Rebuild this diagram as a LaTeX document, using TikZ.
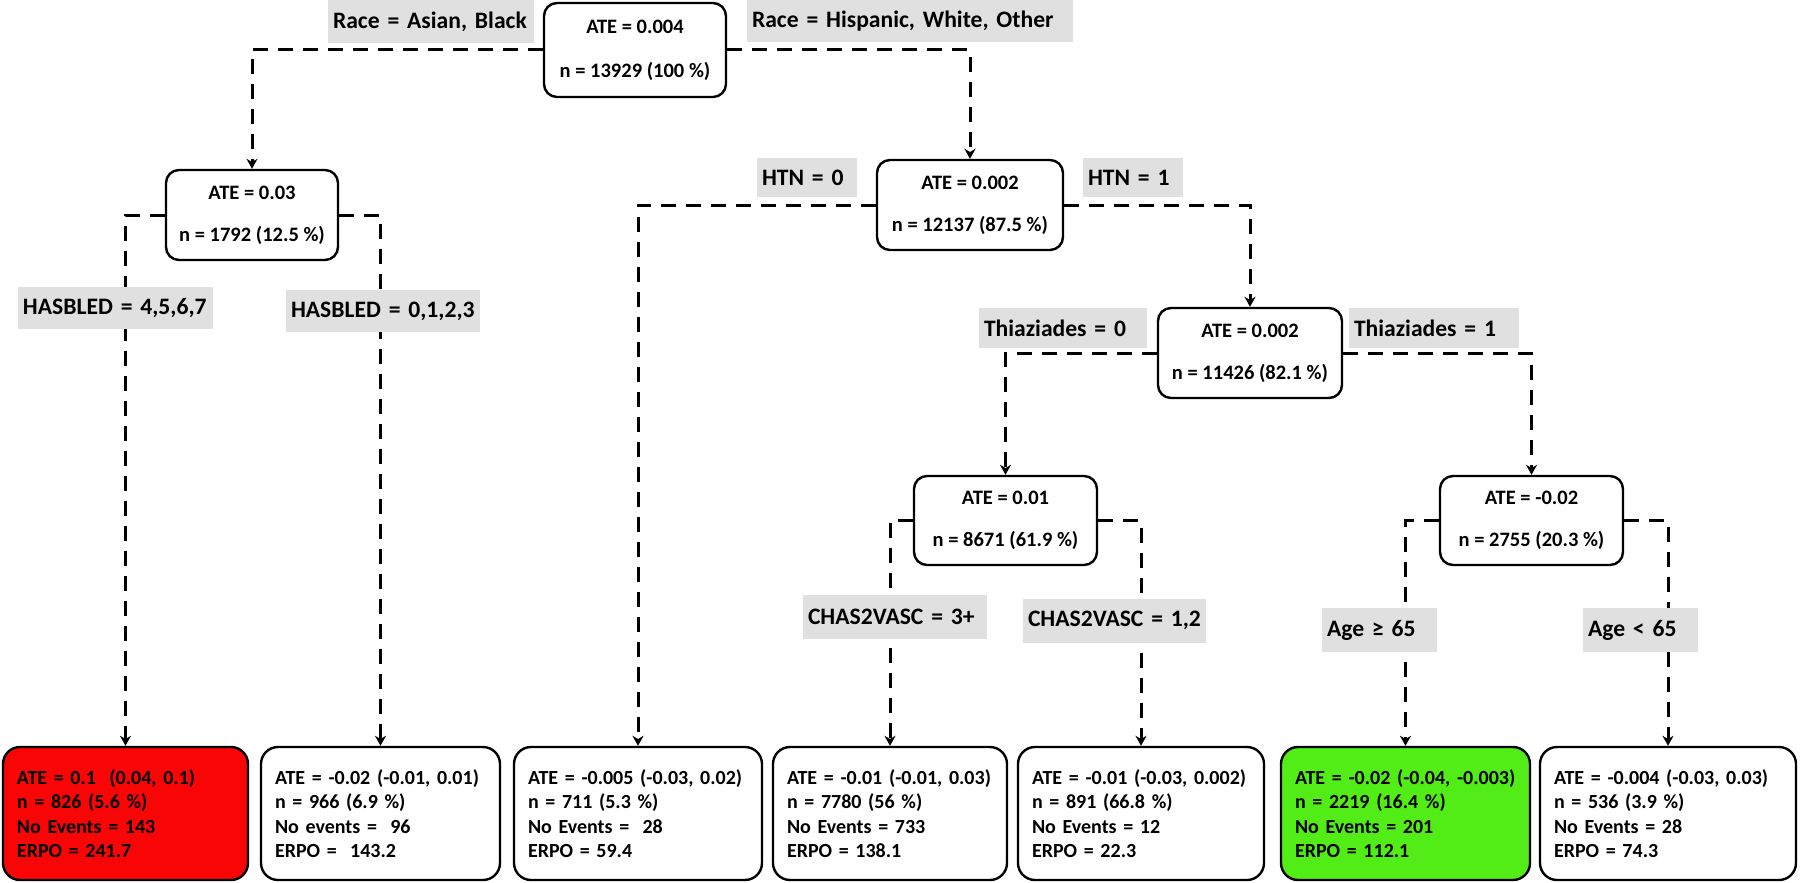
\documentclass[tikz,border=0pt]{standalone}
\usepackage{fontspec}
\setmainfont{Carlito}
\usetikzlibrary{arrows.meta}
\definecolor{lblgray}{RGB}{224,224,224}
\definecolor{leafred}{RGB}{250,5,5}
\definecolor{leafgreen}{RGB}{82,236,22}
\begin{document}
\begin{tikzpicture}[x=0.5pt,y=-0.5pt,
  inner/.style={draw=black, line width=1.2pt, rounded corners=6.5pt, fill=white, align=center, inner sep=0pt, font=\bfseries\fontsize{10.25}{21}\selectfont},
  leaf/.style={draw=black, line width=1.2pt, rounded corners=8.5pt, fill=white, align=left, inner xsep=7pt, inner ysep=0pt, minimum height=66.5pt, font=\bfseries\fontsize{10}{12.25}\selectfont},
  lbl/.style={fill=lblgray, inner xsep=2.5pt, inner ysep=0pt, align=left, font=\bfseries\fontsize{11.8}{14}\selectfont},
  conn/.style={line width=1.5pt, dash pattern=on 7.5pt off 5pt, -{Stealth[length=5pt,width=5.5pt]}},
  ]
\useasboundingbox (0,0) rectangle (1800,883);

% internal nodes
\node[inner, minimum width=91pt, minimum height=47pt, font=\bfseries\fontsize{10.25}{22}\selectfont] (R) at (635,50) {ATE = 0.004\\n = 13929 (100 \%)};
\node[inner, minimum width=86pt, minimum height=45pt] (A2) at (252,215) {ATE = 0.03\\n = 1792 (12.5 \%)};
\node[inner, minimum width=93pt, minimum height=45pt] (B) at (970,205) {ATE = 0.002\\n = 12137 (87.5 \%)};
\node[inner, minimum width=92pt, minimum height=45pt] (C) at (1250,353) {ATE = 0.002\\n = 11426 (82.1 \%)};
\node[inner, minimum width=91.5pt, minimum height=44.5pt] (D) at (1005.5,520.5) {ATE = 0.01\\n = 8671 (61.9 \%)};
\node[inner, minimum width=91.5pt, minimum height=44.5pt] (E) at (1531.5,520.5) {ATE = -0.02\\n = 2755 (20.3 \%)};

% leaves
\node[leaf, fill=leafred, text width=108.5pt] (L1) at (125.5,813.5) {\mbox{ATE = 0.1\ \ (0.04, 0.1)}\\\mbox{n = 826 (5.6 \%)}\\\mbox{No Events = 143}\\\mbox{ERPO = 241.7}};
\node[leaf, text width=105.5pt] (L2) at (380.5,813.5) {\mbox{ATE = -0.02 (-0.01, 0.01)}\\\mbox{n = 966 (6.9 \%)}\\\mbox{No events = \ 96}\\\mbox{ERPO = \ 143.2}};
\node[leaf, text width=110pt] (L3) at (638,813.5) {\mbox{ATE = -0.005 (-0.03, 0.02)}\\\mbox{n = 711 (5.3 \%)}\\\mbox{No Events = \ 28}\\\mbox{ERPO = 59.4}};
\node[leaf, text width=103pt] (L4) at (890,813.5) {\mbox{ATE = -0.01 (-0.01, 0.03)}\\\mbox{n = 7780 (56 \%)}\\\mbox{No Events = 733}\\\mbox{ERPO = 138.1}};
\node[leaf, text width=109pt] (L5) at (1141,813.5) {\mbox{ATE = -0.01 (-0.03, 0.002)}\\\mbox{n = 891 (66.8 \%)}\\\mbox{No Events = 12}\\\mbox{ERPO = 22.3}};
\node[leaf, fill=leafgreen, text width=110.5pt] (L6) at (1405.5,813.5) {\mbox{ATE = -0.02 (-0.04, -0.003)}\\\mbox{n = 2219 (16.4 \%)}\\\mbox{No Events = 201}\\\mbox{ERPO = 112.1}};
\node[leaf, text width=114pt] (L7) at (1668,813.5) {\mbox{ATE = -0.004 (-0.03, 0.03)}\\\mbox{n = 536 (3.9 \%)}\\\mbox{No Events = 28}\\\mbox{ERPO = 74.3}};

% connectors
\draw[conn] (R.west) -| (A2.north);
\draw[conn] (R.east) -| (B.north);
\draw[conn] (A2.west) -| (L1.north);
\draw[conn] (A2.east) -| (L2.north);
\draw[conn] (B.west) -| (L3.north);
\draw[conn] (B.east) -| (C.north);
\draw[conn] (C.west) -| (D.north);
\draw[conn] (C.east) -| (E.north);
\draw[conn] (D.west) -| (L4.north);
\draw[conn] (D.east) -| (L5.north);
\draw[conn] (E.west) -| (L6.north);
\draw[conn] (E.east) -| (L7.north);

% split labels
\node[lbl, text width=98pt, minimum height=21.5pt] (G1) at (431,21.5) {\mbox{Race = Asian, Black}};
\node[lbl, text width=158pt, minimum height=21pt] (G2) at (910,21) {\mbox{Race = Hispanic, White, Other}};
\node[lbl, text width=92.5pt, minimum height=21pt] (G3) at (115.5,308) {\mbox{HASBLED = 4,5,6,7}};
\node[lbl, text width=92pt, minimum height=21pt] (G4) at (383,311) {\mbox{HASBLED = 0,1,2,3}};
\node[lbl, text width=45pt, minimum height=19.5pt] (G5) at (807,177.5) {\mbox{HTN = 0}};
\node[lbl, text width=45pt, minimum height=19.5pt] (G6) at (1133,177.5) {\mbox{HTN = 1}};
\node[lbl, text width=79pt, minimum height=20pt] (G7) at (1063,328) {\mbox{Thiaziades = 0}};
\node[lbl, text width=80pt, minimum height=20pt] (G8) at (1434,328) {\mbox{Thiaziades = 1}};
\node[lbl, text width=87pt, minimum height=22pt] (G9) at (895,617) {\mbox{CHAS2VASC = 3+}};
\node[lbl, text width=86.5pt, minimum height=22pt] (G10) at (1114.5,620.5) {\mbox{CHAS2VASC = 1,2}};
\node[lbl, text width=52.5pt, minimum height=22pt] (G11) at (1379.5,630) {\mbox{Age ≥ 65}};
\node[lbl, text width=52.5pt, minimum height=22pt] (G12) at (1640.5,630) {\mbox{Age < 65}};
\end{tikzpicture}
\end{document}
